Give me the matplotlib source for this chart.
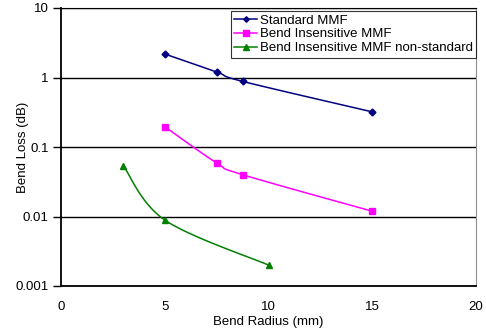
import numpy as np
import matplotlib.pyplot as plt

plt.rcParams['font.family'] = ['Liberation Sans', 'DejaVu Sans']

std_x = [5, 7.5, 8.75, 15]
std_y = [2.18, 1.2, 0.88, 0.32]
bi_x = [5, 7.5, 8.75, 15]
bi_y = [0.196, 0.059, 0.040, 0.0119]
ns_x = [3, 5, 10]
ns_y = [0.054, 0.0089, 0.002]


def smooth(x, y, n=40):
    # catmull-rom through points in (x, log y) space, like Excel's smoothed line
    px = np.asarray(x, float)
    py = np.log10(y)
    if len(px) < 3:
        return px, 10 ** py
    ox, oy = [], []
    P = np.column_stack([px, py])
    P = np.vstack([P[0], P, P[-1]])
    for i in range(1, len(P) - 2):
        p0, p1, p2, p3 = P[i - 1], P[i], P[i + 1], P[i + 2]
        t = np.linspace(0, 1, n)[:, None]
        c1 = p1 + (p2 - p0) / 6
        c2 = p2 - (p3 - p1) / 6
        pts = (1 - t) ** 3 * p1 + 3 * (1 - t) ** 2 * t * c1 + 3 * (1 - t) * t ** 2 * c2 + t ** 3 * p2
        ox.extend(pts[:, 0])
        oy.extend(pts[:, 1])
    return np.array(ox), 10 ** np.array(oy)


fig = plt.figure(figsize=(4.86, 3.29), dpi=100)
ax = fig.add_axes([61 / 486, 1 - 286 / 329, 415 / 486, 278 / 329])

series = [
    (std_x, std_y, '#000080', 'D', 3.5, 'Standard MMF'),
    (bi_x, bi_y, '#FF00FF', 's', 5, 'Bend Insensitive MMF'),
    (ns_x, ns_y, '#008000', '^', 5, 'Bend Insensitive MMF non-standard'),
]
for x, y, c, m, ms, lab in series:
    sx, sy = smooth(x, y)
    ax.plot(sx, sy, color=c, lw=1.1)
    ax.plot(x, y, color=c, marker=m, ms=ms, ls='none')
    ax.plot([], [], color=c, marker=m, ms=ms, lw=1.1, label=lab)

ax.set_yscale('log')
ax.set_ylim(0.001, 10)
ax.set_xlim(0, 20)
ax.set_xticks([0, 5, 10, 15, 20])
ax.set_yticks([0.001, 0.01, 0.1, 1, 10])
ax.set_yticklabels(['0.001', '0.01', '0.1', '1', '10'])
ax.minorticks_off()
ax.tick_params(axis='y', length=6, width=1, labelsize=9.5, color='black', pad=3)
ax.tick_params(axis='x', length=0, labelsize=9.5, pad=11)
ax.yaxis.grid(True, color='black', lw=1)
ax.spines['left'].set_linewidth(1.3)
ax.spines['bottom'].set_linewidth(1.3)
ax.spines['right'].set_color('#909090')
ax.spines['top'].set_color('black')
ax.set_xlabel('Bend Radius (mm)', fontsize=9.5, labelpad=2)
ax.set_ylabel('Bend Loss (dB)', fontsize=9.5)
ax.yaxis.set_label_coords(-0.078, 0.5)

leg = ax.legend(loc='upper right', bbox_to_anchor=(1.0, 0.989), fontsize=9.5,
                frameon=True, fancybox=False, shadow=False, handlelength=1.75,
                handletextpad=0.2, borderpad=0.25, labelspacing=0.12,
                borderaxespad=0.0, markerscale=0.8)
leg.get_frame().set_edgecolor('black')
leg.get_frame().set_linewidth(0.8)

fig.savefig('out.png', dpi=100)
